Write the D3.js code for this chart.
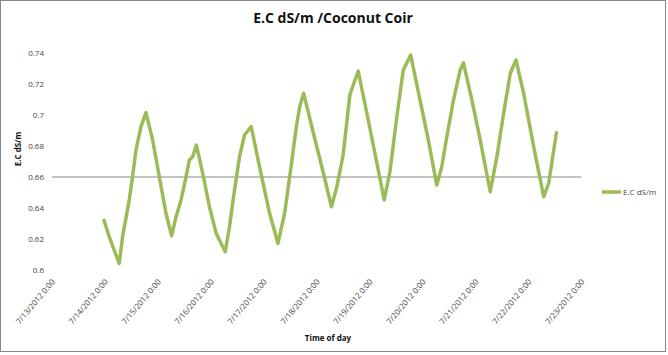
<!DOCTYPE html>
<html><head><meta charset="utf-8">
<script src="https://cdn.jsdelivr.net/npm/d3@7"></script>
<style>html,body{margin:0;padding:0;background:#fff;}svg{display:block;}</style>
</head><body>
<svg id="c" width="668" height="355"></svg>
<script>
const title = "E.C dS/m /Coconut Coir";
const seriesName = "E.C dS/m";
const yTitle = "E.C dS/m";
const xTitle = "Time of day";
const yTicks = [0.6, 0.62, 0.64, 0.66, 0.68, 0.7, 0.72, 0.74];
const xTickLabels = ["7/13/2012 0:00","7/14/2012 0:00","7/15/2012 0:00","7/16/2012 0:00","7/17/2012 0:00","7/18/2012 0:00","7/19/2012 0:00","7/20/2012 0:00","7/21/2012 0:00","7/22/2012 0:00","7/23/2012 0:00"];
const times = ["7/13/2012 23:36","7/14/2012 1:55","7/14/2012 4:10","7/14/2012 6:27","7/14/2012 8:00","7/14/2012 11:00","7/14/2012 12:30","7/14/2012 14:03","7/14/2012 16:19","7/14/2012 18:35","7/14/2012 21:36","7/15/2012 0:38","7/15/2012 3:40","7/15/2012 6:13","7/15/2012 8:13","7/15/2012 10:30","7/15/2012 12:46","7/15/2012 14:16","7/15/2012 15:46","7/15/2012 17:27","7/15/2012 20:19","7/15/2012 23:21","7/16/2012 2:24","7/16/2012 6:30","7/16/2012 8:27","7/16/2012 10:44","7/16/2012 13:00","7/16/2012 15:16","7/16/2012 18:18","7/16/2012 22:05","7/17/2012 2:38","7/17/2012 6:24","7/17/2012 9:27","7/17/2012 11:44","7/17/2012 14:46","7/17/2012 16:16","7/17/2012 18:05","7/17/2012 22:19","7/18/2012 2:52","7/18/2012 6:40","7/18/2012 8:56","7/18/2012 11:58","7/18/2012 15:00","7/18/2012 18:46","7/18/2012 22:35","7/19/2012 3:07","7/19/2012 6:34","7/19/2012 9:10","7/19/2012 12:13","7/19/2012 15:13","7/19/2012 18:34","7/19/2012 22:48","7/20/2012 2:34","7/20/2012 6:24","7/20/2012 8:40","7/20/2012 10:57","7/20/2012 13:59","7/20/2012 17:00","7/20/2012 18:30","7/20/2012 22:18","7/21/2012 2:05","7/21/2012 6:38","7/21/2012 9:40","7/21/2012 12:42","7/21/2012 15:44","7/21/2012 18:18","7/21/2012 21:46","7/22/2012 2:19","7/22/2012 6:52","7/22/2012 9:08","7/22/2012 12:37"];
const ecValues = [0.632,0.6215,0.6129,0.6043,0.6215,0.6452,0.6602,0.6774,0.6925,0.7015,0.6839,0.6602,0.6366,0.622,0.6344,0.6452,0.6602,0.671,0.6731,0.6806,0.6624,0.6408,0.6237,0.6118,0.6279,0.6516,0.6731,0.6871,0.6925,0.6666,0.6366,0.6172,0.6366,0.6602,0.6925,0.7053,0.714,0.6892,0.6634,0.6408,0.6527,0.6742,0.7129,0.7284,0.7021,0.6699,0.6452,0.6634,0.698,0.729,0.7387,0.7097,0.6839,0.6548,0.6666,0.686,0.7097,0.729,0.7337,0.7097,0.6839,0.6505,0.6731,0.7011,0.7269,0.7355,0.714,0.6796,0.6473,0.656,0.6886];
const crossValue = 0.66;

const parse = d3.timeParse("%m/%d/%Y %H:%M");
const data = times.map((t,i)=>({t:parse(t), v:ecValues[i]}));
const xTicks = xTickLabels.map(parse);

const svg = d3.select("#c");
const font = "'Open Sans', 'Liberation Sans', sans-serif";
svg.append("rect").attr("x",0.5).attr("y",0.5).attr("width",665).attr("height",351)
  .attr("fill","#fff").attr("stroke","#888").attr("stroke-width",1);

const x = d3.scaleTime().domain([xTicks[0], xTicks[xTicks.length-1]]).range([52, 581.5]);
const y = d3.scaleLinear().domain([0.6, 0.74]).range([270, 53]);

svg.append("text").attr("x",333).attr("y",23).attr("text-anchor","middle")
  .attr("font-family",font).attr("font-weight","bold").attr("font-size",14).attr("fill","#111").text(title);

// y axis labels
const yAxis = d3.axisLeft(y).tickValues(yTicks).tickSize(0).tickPadding(0).tickFormat(d=>String(+d.toFixed(2)));
const gy = svg.append("g").attr("transform","translate(44,0)").call(yAxis);
gy.select(".domain").remove();
gy.selectAll("text").attr("font-family",font).attr("font-size",8).attr("fill","#444");

// x axis labels
const xAxis = d3.axisBottom(x).tickValues(xTicks).tickSize(0).tickFormat((d,i)=>xTickLabels[i]);
const gx = svg.append("g").attr("transform","translate(0,278)").call(xAxis);
gx.select(".domain").remove();
gx.selectAll("text").attr("font-family",font).attr("font-size",8).attr("fill","#444")
  .attr("text-anchor","end").attr("dx",0).attr("dy",0).attr("y",0)
  .attr("transform","translate(3,4) rotate(-50)");

// horizontal axis line at crossing value
svg.append("line").attr("x1",x.range()[0]).attr("x2",x.range()[1])
  .attr("y1",y(crossValue)).attr("y2",y(crossValue)).attr("stroke","#868686").attr("stroke-width",1);

svg.append("path").datum(data).attr("fill","none").attr("stroke","#9BBB59").attr("stroke-width",3.5)
  .attr("stroke-linejoin","round").attr("stroke-linecap","round")
  .attr("d", d3.line().x(d=>x(d.t)).y(d=>y(d.v)));

// axis titles
svg.append("text").attr("transform","translate(21,"+149+") rotate(-90)").attr("text-anchor","middle")
  .attr("font-family",font).attr("font-weight","bold").attr("font-size",8).attr("fill","#111").text(yTitle);
svg.append("text").attr("x",328).attr("y",341).attr("text-anchor","middle")
  .attr("font-family",font).attr("font-weight","bold").attr("font-size",8).attr("fill","#111").text(xTitle);

// legend
svg.append("line").attr("x1",602).attr("x2",621).attr("y1",192).attr("y2",192).attr("stroke","#9BBB59").attr("stroke-width",3.5);
svg.append("text").attr("x",623).attr("y",195).attr("font-family",font).attr("font-size",8).attr("fill","#444").text(seriesName);
</script>
</body></html>
